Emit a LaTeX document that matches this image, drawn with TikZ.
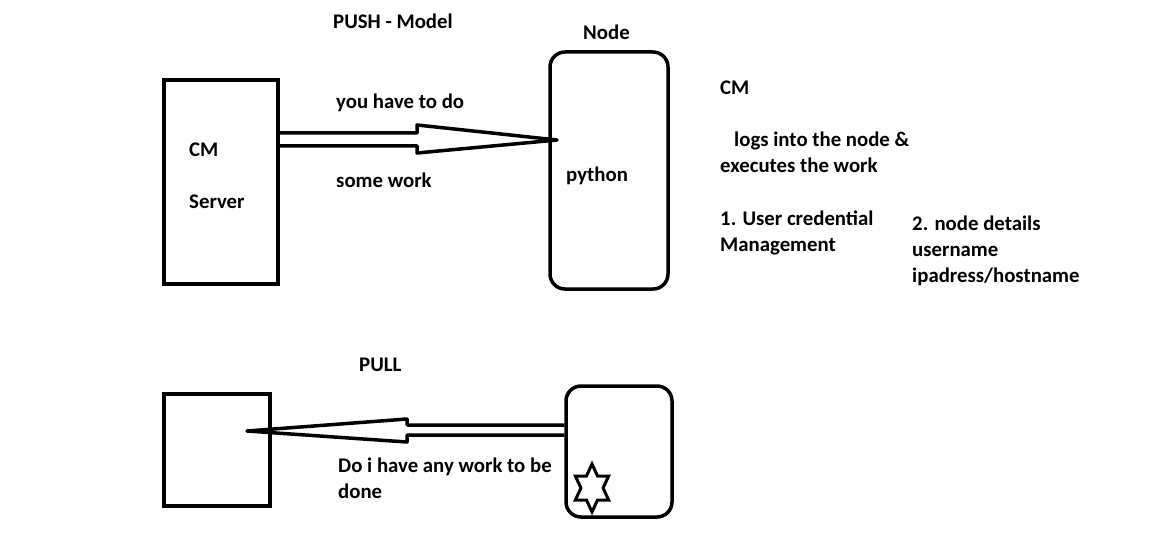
\documentclass[tikz,border=0pt]{standalone}
\usepackage{fontspec}
\setmainfont{Carlito}
\begin{document}
\begin{tikzpicture}[x=1pt,y=-1pt,
  box/.style={draw,line width=3.5pt,inner sep=0pt},
  rbox/.style={box,rounded corners=15pt},
  lbl/.style={anchor=base west,inner sep=0pt,font=\fontsize{20.8}{26}\selectfont\bfseries},
  blk/.style={line width=3.5pt,line join=round}]
\fill[white] (0,0) rectangle (1158,556);
\useasboundingbox (0,0) rectangle (1158,556);
% boxes
\node[box,minimum width=114pt,minimum height=204pt] (server) at (221,182) {};
\node[rbox,minimum width=118pt,minimum height=237pt] (node) at (609,170.5) {};
\node[box,minimum width=106pt,minimum height=112pt] (client) at (217,450) {};
\node[rbox,minimum width=106pt,minimum height=131pt] (agent) at (619,451.5) {};
% push arrow
\coordinate (ps) at (server.east);
\coordinate (pt) at (557,140);
\draw[blk] (ps |- 0,133) -- (417,133) -- (417,125) -- (pt) -- (417,153) -- (417,146) -- (ps |- 0,146);
% pull arrow
\coordinate (qs) at (agent.west);
\coordinate (qt) at (247,431);
\draw[blk] (qs |- 0,425) -- (407,425) -- (407,419) -- (qt) -- (407,442) -- (407,435) -- (qs |- 0,435);
% star
\begin{scope}[shift={(592,488)},xscale=0.8]
\draw[line width=3pt] (90:24) -- (120:13.86) -- (150:24) -- (180:13.86) -- (210:24) -- (240:13.86) -- (270:24) -- (300:13.86) -- (330:24) -- (0:13.86) -- (30:24) -- (60:13.86) -- cycle;
\end{scope}
% texts
\node[lbl] (t1) at (333,29) {PUSH - Model};
\node[lbl] (t2) at (583,40) {Node};
\node[lbl] (t3) at (336,109) {you have to do};
\node[lbl] (t4) at (336,188) {some work};
\node[lbl] (t5) at (189,157) {CM};
\node[lbl] (t6) at (189,208) {Server};
\node[lbl] (t7) at (566,182) {python};
\node[lbl] (t8) at (720,95) {CM};
\node[lbl] (t9) at (734,147) {logs into the node \&};
\node[lbl] (t10) at (720,173) {executes the work};
\node[lbl] (t11) at (720,225) {1. User credential};
\node[lbl] (t12) at (720,251) {Management};
\node[lbl] (t13) at (912,230) {2. node details};
\node[lbl] (t14) at (912,256) {username};
\node[lbl] (t15) at (912,282) {ipadress/hostname};
\node[lbl] (t16) at (359,371) {PULL};
\node[lbl] (t17) at (338,472) {Do i have any work to be};
\node[lbl] (t18) at (338,498) {done};
\end{tikzpicture}
\end{document}
